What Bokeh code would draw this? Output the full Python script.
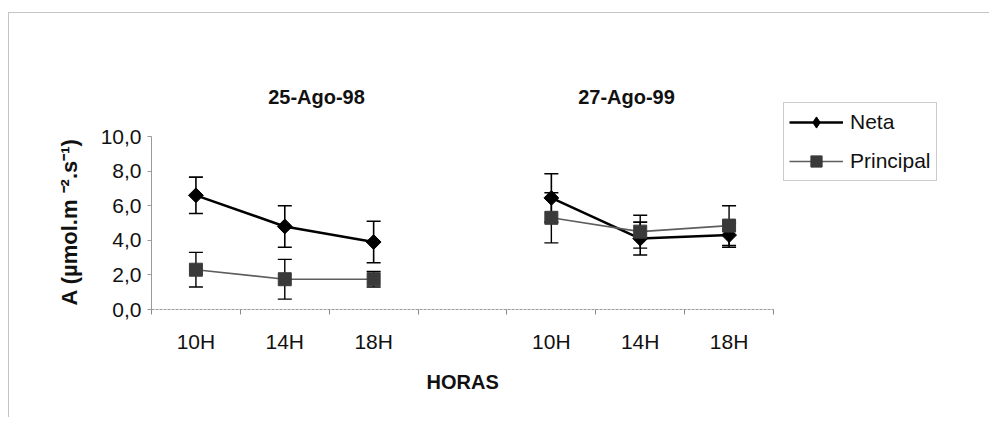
import math
from bokeh.plotting import figure
from bokeh.models import (ColumnDataSource, Range1d, FixedTicker, Whisker, TeeHead,
                          Legend, LegendItem, Label, Title)
from bokeh.embed import file_html
from bokeh.resources import INLINE

# ---- data ----
categories = ["10H", "14H", "18H", "", "10H", "14H", "18H"]
dates = ["25-Ago-98", "27-Ago-99"]

neta_98 = [6.6, 4.8, 3.9]
neta_98_err = [1.05, 1.2, 1.2]
princ_98 = [2.3, 1.75, 1.75]
princ_98_err = [1.0, 1.15, 0.45]

neta_99 = [6.45, 4.1, 4.3]
neta_99_err = [1.4, 0.95, 0.7]
princ_99 = [5.3, 4.5, 4.85]
princ_99_err = [1.45, 0.95, 1.15]

y_ticks = [0, 2, 4, 6, 8, 10]
y_tick_labels = ["0,0", "2,0", "4,0", "6,0", "8,0", "10,0"]
series_names = ["Neta", "Principal"]
x_title = "HORAS"
y_title = "A (\u00b5mol.m \u207b\u00b2.s\u207b\u00b9)"

FONT = "Liberation Sans"

nan = float("nan")
n_cat = len(categories)
xs = [i + 0.5 for i in range(n_cat)]
neta = neta_98 + [nan] + neta_99
neta_err = neta_98_err + [nan] + neta_99_err
princ = princ_98 + [nan] + princ_99
princ_err = princ_98_err + [nan] + princ_99_err


def make_src(vals, errs):
    up = [v + e for v, e in zip(vals, errs)]
    lo = [v - e for v, e in zip(vals, errs)]
    return ColumnDataSource(dict(x=xs, y=vals, upper=up, lower=lo))


src_n = make_src(neta, neta_err)
src_p = make_src(princ, princ_err)

# geometry (pixels)
AX_W = 622      # width of the category axis
AX_H = 173      # height of the 0..10 value axis
FRAME_W = 838
FRAME_H = 290
y_top = y_ticks[-1] * FRAME_H / AX_H
x_right = n_cat * FRAME_W / AX_W

p = figure(width=980, height=404, output_backend="svg", toolbar_location=None,
           x_range=Range1d(0, x_right), y_range=Range1d(0, y_top),
           frame_width=FRAME_W, frame_height=FRAME_H,
           min_border_left=142, min_border_right=0, min_border_top=6, min_border_bottom=108,
           styles={"margin-top": "12px", "margin-left": "8px",
                   "border-top": "1px solid #c4c4c4", "border-left": "1px solid #c4c4c4"})
p.outline_line_color = None
p.xgrid.visible = False
p.ygrid.visible = False
p.background_fill_color = "white"
p.border_fill_color = "white"

# x axis
p.xaxis.bounds = (0, n_cat)
p.xaxis.ticker = FixedTicker(ticks=xs, minor_ticks=list(range(n_cat + 1)))
p.xaxis.major_label_overrides = {x: c for x, c in zip(xs, categories)}
p.xaxis.major_tick_line_color = None
p.xaxis.major_tick_out = 0
p.xaxis.minor_tick_line_color = "#888888"
p.xaxis.minor_tick_out = 5
p.xaxis.minor_tick_in = 0
p.xaxis.axis_line_color = "#999999"
p.xaxis.axis_line_dash = "3 1"
p.xaxis.major_label_standoff = 15
p.xaxis.major_label_text_font = FONT
p.xaxis.major_label_text_font_size = "21px"
p.xaxis.major_label_text_color = "#111111"

# y axis
p.yaxis.bounds = (0, y_ticks[-1])
p.yaxis.ticker = FixedTicker(ticks=y_ticks, minor_ticks=[])
p.yaxis.major_label_overrides = {t: l for t, l in zip(y_ticks, y_tick_labels)}
p.yaxis.axis_line_color = "#999999"
p.yaxis.major_tick_line_color = "#999999"
p.yaxis.major_tick_out = 4
p.yaxis.major_tick_in = 0
p.yaxis.minor_tick_line_color = None
p.yaxis.major_label_standoff = 6
p.yaxis.major_label_text_font = FONT
p.yaxis.major_label_text_font_size = "21px"
p.yaxis.major_label_text_color = "#111111"

# axis titles
p.add_layout(Title(text=x_title, align="left", offset=275, standoff=26,
                   text_font=FONT, text_font_size="20px", text_font_style="bold",
                   text_color="#111111"), "below")
p.add_layout(Title(text=y_title, align="left", offset=4, standoff=31,
                   text_font=FONT, text_font_size="22px", text_font_style="bold",
                   text_color="#111111"), "left")

# error bars (beneath markers)
for src, lw in ((src_n, 1.6), (src_p, 1.4)):
    w = Whisker(base="x", upper="upper", lower="lower", source=src, level="underlay",
                line_color="black", line_width=lw,
                upper_head=TeeHead(size=14, line_color="black", line_width=lw),
                lower_head=TeeHead(size=14, line_color="black", line_width=lw))
    p.add_layout(w)

# series
ln_n = p.line("x", "y", source=src_n, line_color="black", line_width=2.5)
mk_n = p.scatter("x", "y", source=src_n, marker="square", angle=math.pi / 4, size=10.5,
                 fill_color="black", line_color="black")
ln_p = p.line("x", "y", source=src_p, line_color="#5e5e5e", line_width=1.6)
mk_p = p.scatter("x", "y", source=src_p, marker="square", size=13,
                 fill_color="#3a3a3a", line_color="#3a3a3a")
# legend symbol for the diamond series (legend glyphs ignore marker rotation)
leg_n = p.scatter(x=[nan], y=[nan], marker="diamond", size=17,
                  fill_color="black", line_color="black")

legend = Legend(items=[LegendItem(label=series_names[0], renderers=[ln_n, leg_n]),
                       LegendItem(label=series_names[1], renderers=[ln_p, mk_p])],
                location=(632, 128))
legend.label_text_font = FONT
legend.label_text_font_size = "21px"
legend.label_text_color = "#111111"
legend.glyph_width = 54
legend.glyph_height = 28
legend.label_height = 28
legend.label_standoff = 7
legend.spacing = 11
legend.padding = 5
legend.margin = 0
legend.border_line_color = "#999999"
legend.border_line_width = 1
legend.background_fill_alpha = 1.0
p.add_layout(legend, "center")

# group titles
for txt, sx in zip(dates, [165, 475]):
    p.add_layout(Label(x=sx, y=213, x_units="screen", y_units="screen", text=txt,
                       text_align="center", text_baseline="middle",
                       text_font=FONT, text_font_size="20px", text_font_style="bold",
                       text_color="#111111"))

open("out.html", "w").write(file_html(p, INLINE))
